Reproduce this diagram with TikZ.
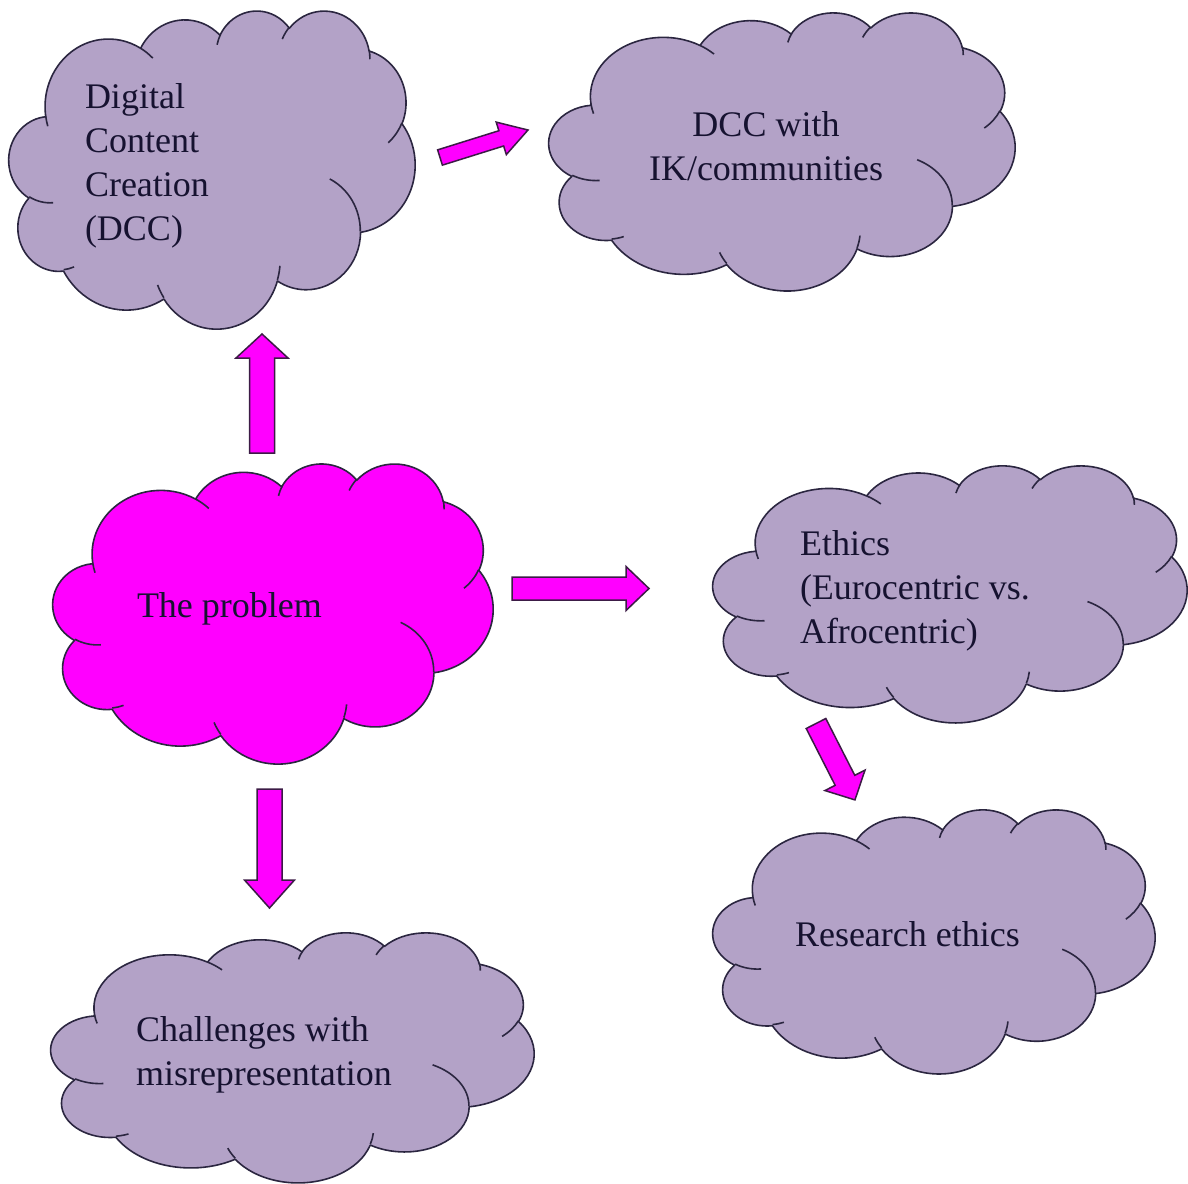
\documentclass[tikz,border=0pt]{standalone}
\usepackage{fontspec}
\setmainfont{Liberation Serif}
\usetikzlibrary{calc}

\definecolor{lav}{HTML}{B3A2C7}
\definecolor{mag}{HTML}{FF00FF}
\definecolor{edgeline}{HTML}{2B2640}
\definecolor{arrowline}{HTML}{3C1B46}
\definecolor{ink}{HTML}{161230}

% Cloud outline on a 43.2 x 43.2 grid (y pointing down):
% x radius / y radius / start angle / sweep, angles measured from the centre
\def\cloudarcsraw{6.753/9.190/-190.48748/123.78053,5.333/7.267/-144.10238/89.94523,4.365/5.945/-145.80792/99.72302,4.857/6.595/-130.98607/117.24173,5.333/7.273/-78.70888/109.02692,6.775/9.220/-46.26725/130.269,5.785/7.867/0.62502/114.03333,6.752/9.215/22.4516/115.17255,7.720/10.543/66.24263/75.71102,4.360/5.918/-274.94208/146.73557,4.345/5.945/-246.8285/152.51885}
% inner creases: start x / start y / x radius / y radius / start angle / sweep
\def\creasesraw{4.693/26.177/4.345/5.945/86.742/26.4295,6.928/34.899/4.360/5.918/73.6105/11.4475,16.478/39.090/6.752/9.215/137.6242/14.0811,28.827/34.751/6.752/9.215/6.4533/15.9984,34.129/22.954/5.785/7.867/-70.2924/70.9174,41.798/15.354/5.333/7.273/30.318/27.7515,38.324/5.426/4.857/6.595/-13.7443/14.8589,29.078/3.952/4.857/6.595/-149.1815/18.1954,22.141/4.720/4.365/5.945/-163.4943/17.6864,14.000/5.192/6.753/9.190/-66.707/12.3194,4.127/15.789/6.753/9.190/157.6544/11.8582}

% parametric start angle and sweep, with y pointing up
\gdef\cloudarcs{}
\foreach \wr/\hr/\st/\sw in \cloudarcsraw {%
  \pgfmathsetmacro\ts{atan2(\wr*sin(\st),\hr*cos(\st))}%
  \pgfmathsetmacro\te{atan2(\wr*sin(\st+\sw),\hr*cos(\st+\sw))}%
  \pgfmathsetmacro\sa{0-(\ts)}%
  \pgfmathsetmacro\da{0-mod((\te)-(\ts)+720,360)}%
  \xdef\cloudarcs{\cloudarcs\ifx\cloudarcs\empty\else,\fi\wr/\hr/\sa/\da}%
}
\gdef\cloudcreases{}
\foreach \qx/\qy/\wr/\hr/\st/\sw in \creasesraw {%
  \pgfmathsetmacro\ts{atan2(\wr*sin(\st),\hr*cos(\st))}%
  \pgfmathsetmacro\te{atan2(\wr*sin(\st+\sw),\hr*cos(\st+\sw))}%
  \pgfmathsetmacro\sa{0-(\ts)}%
  \pgfmathsetmacro\da{0-mod((\te)-(\ts)+720,360)}%
  \xdef\cloudcreases{\cloudcreases\ifx\cloudcreases\empty\else,\fi\qx/\qy/\wr/\hr/\sa/\da}%
}

\tikzset{
  cloudline/.style={draw=edgeline, line width=1.6pt, line join=round},
  blockarrow/.style={draw=arrowline, fill=mag, line width=1.5pt, line join=miter},
  cloudtext/.style={inner sep=0pt, outer sep=0pt, text=ink, font=\fontsize{36}{44}\selectfont},
}

% #1 name, #2 left, #3 top, #4 width, #5 height, #6 fill colour
\newcommand\pptcloud[6]{%
  \pgfmathsetmacro\cloudsx{#4/43.2}%
  \pgfmathsetmacro\cloudsy{#5/43.2}%
  \pgfmathsetmacro\cloudpx{#2+3.9*\cloudsx}%
  \pgfmathsetmacro\cloudpy{0-#3-14.37*\cloudsy}%
  \xdef\cloudpathstr{(\cloudpx,\cloudpy)}%
  \foreach \wr/\hr/\sa/\da in \cloudarcs {%
    \pgfmathsetmacro\cloudrx{\wr*\cloudsx}%
    \pgfmathsetmacro\cloudry{\hr*\cloudsy}%
    \xdef\cloudpathstr{\cloudpathstr arc[start angle=\sa, delta angle=\da, x radius=\cloudrx, y radius=\cloudry]}%
  }%
  \xdef\creasepathstr{}%
  \foreach \qx/\qy/\wr/\hr/\sa/\da in \cloudcreases {%
    \pgfmathsetmacro\cloudqx{#2+\qx*\cloudsx}%
    \pgfmathsetmacro\cloudqy{0-#3-\qy*\cloudsy}%
    \pgfmathsetmacro\cloudrx{\wr*\cloudsx}%
    \pgfmathsetmacro\cloudry{\hr*\cloudsy}%
    \xdef\creasepathstr{\creasepathstr (\cloudqx,\cloudqy) arc[start angle=\sa, delta angle=\da, x radius=\cloudrx, y radius=\cloudry]}%
  }%
  \edef\clouddraw{\noexpand\draw[cloudline, fill=#6] \cloudpathstr -- cycle;
    \noexpand\draw[cloudline] \creasepathstr;}%
  \clouddraw
  \coordinate (#1) at (#2+#4/2, -#3-#5/2);
}

% block arrow from tail #1 to tip #2; #3 shaft half width, #4 head half width, #5 head length
\newcommand\blockarrowpath[5]{%
  \pgfpointdiff{\pgfpointanchor{#1}{center}}{\pgfpointanchor{#2}{center}}%
  \pgfgetlastxy{\adx}{\ady}%
  \pgfmathsetmacro\alen{veclen(\adx,\ady)}%
  \pgfmathsetmacro\aang{atan2(\ady,\adx)}%
  \begin{scope}[shift={(#1)}, rotate=\aang]
    \draw[blockarrow] (0,-#3) -- (\alen-#5,-#3) -- (\alen-#5,-#4) -- (\alen,0)
      -- (\alen-#5,#4) -- (\alen-#5,#3) -- (0,#3) -- cycle;
  \end{scope}
}

\begin{document}
\begin{tikzpicture}[x=1pt, y=1pt]
  \fill[white] (0,0) rectangle (1188,-1183);
  \useasboundingbox (0,0) rectangle (1188,-1183);

  % clouds
  \pptcloud{cDCC}{9}{10}{406}{318}{lav}
  \pptcloud{cIK}{549}{12}{466}{278}{lav}
  \pptcloud{cProblem}{53}{463}{440}{300}{mag}
  \pptcloud{cEthics}{713}{465}{474}{257}{lav}
  \pptcloud{cResearch}{713}{809}{442}{264}{lav}
  \pptcloud{cChallenges}{51}{932}{483}{250}{lav}

  % labels (base anchor sits on the last line)
  \node[cloudtext, anchor=base west, align=left] (tDCC) at (85,-240)
    {Digital\\Content\\Creation\\(DCC)};
  \node[cloudtext, anchor=base, align=center] (tIK) at (766,-180)
    {DCC with\\IK/communities};
  \node[cloudtext, anchor=base west] (tProblem) at (137,-617) {The problem};
  \node[cloudtext, anchor=base west, align=left] (tEthics) at (800,-643)
    {Ethics\\(Eurocentric vs.\\Afrocentric)};
  \node[cloudtext, anchor=base west] (tResearch) at (795,-946) {Research ethics};
  \node[cloudtext, anchor=base west, align=left] (tChallenges) at (136,-1085)
    {Challenges with\\misrepresentation};

  % arrow ends
  \coordinate (upTail) at (262,-453);
  \coordinate (upTip) at (262,-334);
  \coordinate (ikTail) at (440,-157.5);
  \coordinate (ikTip) at (528,-130);
  \coordinate (rightTail) at (512,-588.5);
  \coordinate (rightTip) at (649,-588.5);
  \coordinate (diagTail) at (816,-723.5);
  \coordinate (diagTip) at (855,-800);
  \coordinate (downTail) at (269.5,-789);
  \coordinate (downTip) at (269.5,-908);

  % arrows
  \blockarrowpath{upTail}{upTip}{12.5}{26}{24}
  \blockarrowpath{ikTail}{ikTip}{8}{17}{28}
  \blockarrowpath{rightTail}{rightTip}{11.5}{22}{23}
  \blockarrowpath{diagTail}{diagTip}{11}{22.5}{22}
  \blockarrowpath{downTail}{downTip}{12.5}{25}{28}
\end{tikzpicture}
\end{document}
